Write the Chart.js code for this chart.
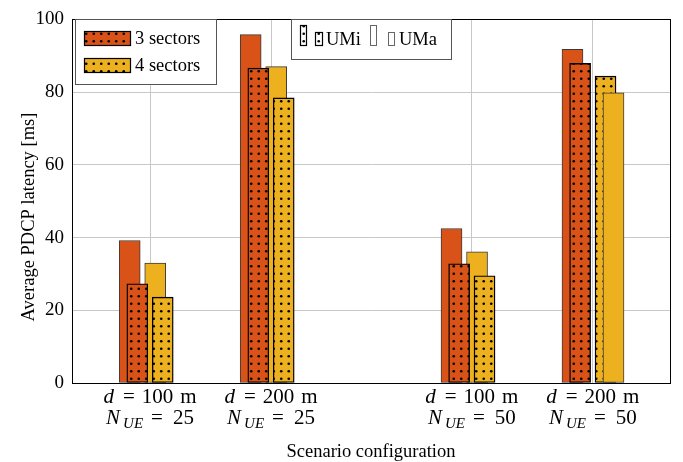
<!DOCTYPE html>
<html>
<head>
<meta charset="utf-8">
<script src="https://cdn.jsdelivr.net/npm/chart.js@4.4.1/dist/chart.umd.min.js"></script>
<style>
  html, body { margin: 0; padding: 0; background: #fff; }
  #wrap { width: 683px; height: 462px; }
</style>
</head>
<body>
<div id="wrap"><canvas id="chart" width="683" height="462"></canvas></div>
<script>
'use strict';

// group positions on the x axis (the gap between 25 and 50 UEs is wider)
const groupPos = [1, 2, 3.66, 4.66];
const distLabels = ['100', '200', '100', '200'];
const ueLabels = ['25', '25', '50', '50'];
const yTicks = [0, 20, 40, 60, 80, 100];

// average PDCP latency [ms]
const uma3 = [39.2, 95.8, 42.5, 91.8];
const umi3 = [27.3, 86.6, 32.8, 87.9];
const uma4 = [33.0, 87.0, 36.1, 79.8];
const umi4 = [23.6, 78.4, 29.5, 84.4];

// bar shifts inside a group, in x-axis units
const SHIFT = {
  uma3: [-0.168, -0.168, -0.168, -0.168],
  umi3: [-0.105, -0.105, -0.105, -0.105],
  uma4: [0.043, 0.043, 0.043, 0.171],
  umi4: [0.105, 0.105, 0.105, 0.105]
};

const ORANGE = '#D95319';
const YELLOW = '#EDB120';
const SERIF = '"Liberation Serif", "Times New Roman", serif';

function dots(bg) {
  const c = document.createElement('canvas');
  c.width = 15; c.height = 15;
  const g = c.getContext('2d');
  g.fillStyle = bg;
  g.fillRect(0, 0, 15, 15);
  g.fillStyle = '#000';
  [[3.75, 3.75], [11.25, 3.75], [3.75, 11.25], [11.25, 11.25]].forEach(([x, y]) => {
    g.beginPath(); g.arc(x, y, 1.3, 0, Math.PI * 2); g.fill();
  });
  return document.getElementById('chart').getContext('2d').createPattern(c, 'repeat');
}

const pOrange = dots(ORANGE);
const pYellow = dots(YELLOW);
const pWhite = dots('#fff');

function points(vals, shift, keep) {
  return vals.map((v, i) => ({ x: groupPos[i] + shift[i], y: v }))
    .filter((p, i) => keep(i));
}

const solid = { borderColor: '#3a3a3a', borderWidth: 1 };
const dotted = { borderColor: '#000', borderWidth: 1.4 };

const datasets = [
  { label: 'UMa 3', data: points(uma3, SHIFT.uma3, () => true), backgroundColor: ORANGE, order: 4, ...solid },
  { label: 'UMa 4', data: points(uma4, SHIFT.uma4, i => i < 3), backgroundColor: YELLOW, order: 3, ...solid },
  { label: 'UMi 3', data: points(umi3, SHIFT.umi3, () => true), backgroundColor: pOrange, order: 2, ...dotted },
  { label: 'UMi 4', data: points(umi4, SHIFT.umi4, () => true), backgroundColor: pYellow, order: 1, ...dotted },
  { label: 'UMa 4 b', data: points(uma4, SHIFT.uma4, i => i === 3), backgroundColor: YELLOW, order: 0, ...solid }
].map(ds => ({ ...ds, grouped: false, barThickness: 21, borderSkipped: false }));

function drawRuns(ctx, runs, cx, y) {
  let total = 0;
  runs.forEach(r => { ctx.font = r.f; r.w = ctx.measureText(r.t).width; total += r.g + r.w; });
  let x = cx - total / 2;
  runs.forEach(r => {
    x += r.g;
    ctx.font = r.f;
    ctx.fillText(r.t, x, y + (r.dy || 0));
    x += r.w;
  });
}

function box(ctx, x, y, w, h, fill, stroke, lw) {
  ctx.fillStyle = fill;
  ctx.fillRect(x, y, w, h);
  ctx.strokeStyle = stroke;
  ctx.lineWidth = lw;
  ctx.strokeRect(x + 0.5, y + 0.5, w - 1, h - 1);
}

const decorations = {
  id: 'decorations',
  afterDraw(chart) {
    const { ctx, chartArea: a, scales } = chart;
    ctx.save();

    // axis frame
    ctx.strokeStyle = '#000';
    ctx.lineWidth = 1;
    ctx.strokeRect(Math.round(a.left) + 0.5, Math.round(a.top) + 0.5,
      Math.round(a.right - a.left), Math.round(a.bottom - a.top));

    // x tick labels
    ctx.fillStyle = '#000';
    ctx.textBaseline = 'alphabetic';
    ctx.textAlign = 'left';
    const it = 'italic 21px ' + SERIF, rm = '21px ' + SERIF, sub = 'italic 15px ' + SERIF;
    groupPos.forEach((v, i) => {
      const cx = scales.x.getPixelForValue(v);
      drawRuns(ctx, [
        { t: 'd', f: it, g: 0 }, { t: '=', f: rm, g: 9 },
        { t: distLabels[i], f: rm, g: 7 }, { t: 'm', f: rm, g: 7 }
      ], cx, 403);
      drawRuns(ctx, [
        { t: 'N', f: it, g: 0 }, { t: 'UE', f: sub, g: 3, dy: 4 },
        { t: '=', f: rm, g: 8 }, { t: ueLabels[i], f: rm, g: 10 }
      ], cx, 424);
    });

    // axis titles
    ctx.font = '18.5px ' + SERIF;
    ctx.textAlign = 'center';
    ctx.fillText('Scenario configuration', (a.left + a.right) / 2, 457);
    ctx.save();
    ctx.translate(34, 217);
    ctx.rotate(-Math.PI / 2);
    ctx.fillText('Average PDCP latency [ms]', 0, 0);
    ctx.restore();

    // legend: sectors
    ctx.textAlign = 'left';
    box(ctx, 75, 19, 142, 66, '#fff', '#555', 1);
    box(ctx, 84, 31, 47, 15, pOrange, '#000', 1.2);
    box(ctx, 84, 58, 47, 15, pYellow, '#000', 1.2);
    ctx.fillStyle = '#000';
    ctx.fillText('3 sectors', 135, 44);
    ctx.fillText('4 sectors', 135, 71);

    // legend: scenario
    box(ctx, 291, 19, 161, 41, '#fff', '#555', 1);
    box(ctx, 300, 25, 7, 21, pWhite, '#000', 1.2);
    box(ctx, 315, 32, 8, 14, pWhite, '#000', 1.2);
    box(ctx, 370, 25, 7, 21, '#fff', '#666', 1);
    box(ctx, 388, 32, 7, 14, '#fff', '#666', 1);
    ctx.fillStyle = '#000';
    ctx.fillText('UMi', 326, 45);
    ctx.fillText('UMa', 399, 45);

    ctx.restore();
  }
};

new Chart(document.getElementById('chart'), {
  type: 'bar',
  data: { datasets },
  options: {
    responsive: false,
    animation: false,
    devicePixelRatio: 1,
    layout: { padding: { top: 15, right: 13, left: 0, bottom: 0 } },
    plugins: { legend: { display: false }, tooltip: { enabled: false } },
    scales: {
      x: {
        type: 'linear',
        offset: false,
        min: 0.355,
        max: 5.298,
        afterBuildTicks: s => { s.ticks = groupPos.map(v => ({ value: v })); },
        afterFit: s => { s.height = 79; },
        ticks: { display: false },
        grid: { color: '#c8c8c8', drawTicks: false, lineWidth: 1, offset: false },
        border: { color: '#000' }
      },
      y: {
        min: 0,
        max: 100,
        afterBuildTicks: s => { s.ticks = yTicks.map(v => ({ value: v })); },
        afterFit: s => { s.width = 72; },
        ticks: { color: '#000', padding: 8, font: { family: SERIF, size: 19 } },
        grid: { color: '#c8c8c8', drawTicks: false, lineWidth: 1 },
        border: { color: '#000' }
      }
    }
  },
  plugins: [decorations]
});
</script>
</body>
</html>
